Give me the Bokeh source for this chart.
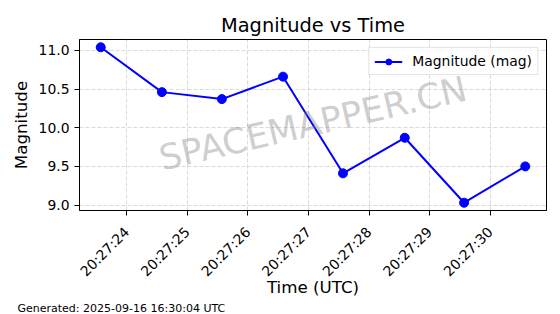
import pandas as pd
from bokeh.plotting import figure
from bokeh.models import (Range1d, FixedTicker, Label, Legend, LegendItem, Title,
                          PrintfTickFormatter, DatetimeTickFormatter)
from bokeh.embed import file_html
from bokeh.resources import INLINE
import math

# ---- data ----
obs_date = "2025-09-16"
times = ["20:27:23.57", "20:27:24.58", "20:27:25.57", "20:27:26.58",
         "20:27:27.57", "20:27:28.59", "20:27:29.57", "20:27:30.58"]
magnitudes = [11.04, 10.46, 10.37, 10.66, 9.41, 9.87, 9.03, 9.50]
x_tick_labels = ["20:27:24", "20:27:25", "20:27:26", "20:27:27",
                 "20:27:28", "20:27:29", "20:27:30"]
y_ticks = [9.0, 9.5, 10.0, 10.5, 11.0]
title_text = "Magnitude vs Time"
x_label = "Time (UTC)"
y_label = "Magnitude"
series_label = "Magnitude (mag)"
watermark = "SPACEMAPPER.CN"
footer = "Generated: 2025-09-16 16:30:04 UTC"

def to_ms(strs):
    return list(pd.to_datetime([obs_date + " " + s for s in strs]).asi8 / 1e6)

x = to_ms(times)
xt = to_ms(x_tick_labels)

FONT = "DejaVu Sans"

xspan = max(x) - min(x)
yspan = max(magnitudes) - min(magnitudes)

p = figure(width=560, height=314, x_axis_type="datetime",
           output_backend="svg", toolbar_location=None,
           x_range=Range1d(min(x) - 0.05 * xspan, max(x) + 0.05 * xspan),
           y_range=Range1d(min(magnitudes) - 0.05 * yspan, max(magnitudes) + 0.05 * yspan),
           min_border_left=79, min_border_right=14, min_border_top=39, min_border_bottom=102)

p.title.text = title_text
p.title.align = "center"
p.title.text_font = FONT
p.title.text_font_size = "19.4px"
p.title.text_font_style = "normal"
p.title.text_color = "#000000"
p.title.standoff = 5

p.outline_line_color = "black"
p.outline_line_width = 1
p.background_fill_color = "white"
p.border_fill_color = "white"

# axes
for ax in (p.xaxis[0], p.yaxis[0]):
    ax.axis_label_text_font = FONT
    ax.axis_label_text_font_size = "16.7px"
    ax.axis_label_text_font_style = "normal"
    ax.axis_label_text_color = "#000000"
    ax.major_label_text_font = FONT
    ax.major_label_text_font_size = "13.9px"
    ax.major_label_text_color = "#000000"
    ax.major_tick_out = 5
    ax.major_tick_in = 0
    ax.minor_tick_out = 0
    ax.minor_tick_in = 0
    ax.axis_line_color = "black"
    ax.major_tick_line_color = "black"
    ax.major_label_standoff = 5

p.xaxis.axis_label = x_label
p.yaxis.axis_label = y_label
p.xaxis.ticker = FixedTicker(ticks=xt)
fmt = "%H:%M:%S"
p.xaxis.formatter = DatetimeTickFormatter(microseconds=fmt, milliseconds=fmt, seconds=fmt,
                                          minsec=fmt, minutes=fmt, hourmin=fmt, hours=fmt,
                                          days=fmt, months=fmt, years=fmt)
p.xaxis.major_label_orientation = math.pi / 4
p.xaxis.major_label_standoff = 14
p.yaxis.ticker = FixedTicker(ticks=y_ticks)
p.yaxis.formatter = PrintfTickFormatter(format="%.1f")
p.yaxis.axis_label_standoff = 5
p.xaxis.axis_label_standoff = -11

for g in (p.xgrid[0], p.ygrid[0]):
    g.grid_line_color = "#b0b0b0"
    g.grid_line_alpha = 0.6
    g.grid_line_dash = "4 2"
    g.grid_line_width = 0.8
p.xgrid.ticker = FixedTicker(ticks=xt)
p.ygrid.ticker = FixedTicker(ticks=y_ticks)

# watermark
p.add_layout(Label(x=233.5, y=87, x_units="screen", y_units="screen",
                   text=watermark, text_align="center", text_baseline="middle",
                   angle=13, angle_units="deg", text_font=FONT,
                   text_font_size="35px", text_color="gray", text_alpha=0.4))

line_r = p.line(x, magnitudes, line_color="blue", line_width=2)
dot_r = p.scatter(x, magnitudes, size=9, fill_color="blue", line_color="blue")

legend = Legend(items=[LegendItem(label=series_label, renderers=[line_r, dot_r])],
                location="top_right")
legend.margin = 8
legend.padding = 5
legend.spacing = 0
legend.glyph_width = 28
legend.glyph_height = 15
legend.label_height = 15
legend.label_standoff = 10
legend.label_text_font = FONT
legend.label_text_font_size = "13.9px"
legend.label_text_color = "#000000"
legend.border_line_color = "#cccccc"
legend.background_fill_alpha = 0.8
p.add_layout(legend)

# footer
foot = Title(text=footer, align="left", offset=-62, text_font=FONT,
             text_font_size="11px", text_font_style="normal",
             text_color="#000000", standoff=0)
p.add_layout(foot, "below")

open("out.html", "w").write(file_html(p, INLINE))
